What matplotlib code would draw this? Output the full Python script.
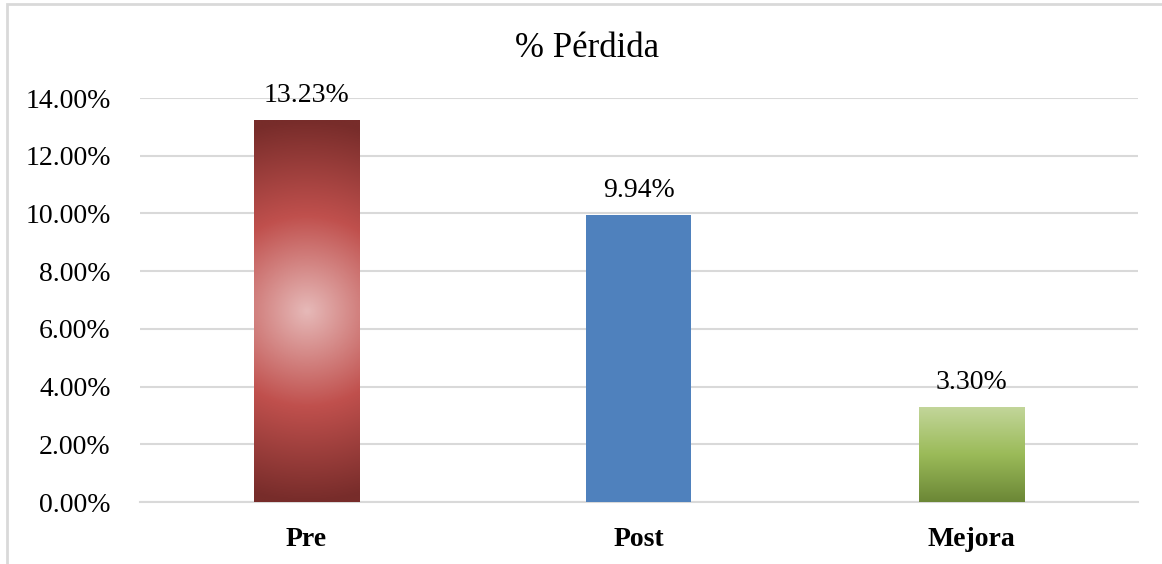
import numpy as np
import matplotlib.pyplot as plt
from matplotlib.colors import LinearSegmentedColormap
from matplotlib.patches import Rectangle

categories = ["Pre", "Post", "Mejora"]
perdida = [0.1323, 0.0994, 0.0330]
etiquetas = ["13.23%", "9.94%", "3.30%"]
yticks = [0.0, 0.02, 0.04, 0.06, 0.08, 0.10, 0.12, 0.14]

plt.rcParams['font.family'] = ['Liberation Serif', 'DejaVu Serif']

fig = plt.figure(figsize=(11.62, 5.64), dpi=100)
ax = fig.add_axes([140 / 1162, 62 / 564, 997.5 / 1162, 404 / 564])

x = np.arange(len(categories))
bars = ax.bar(x, perdida, width=0.316, color=["#C0504D", "#4F81BD", "#9BBB59"],
              zorder=3, linewidth=0)

ax.set_xlim(-0.5, 2.5)
ax.set_ylim(0, 0.14)
ax.set_yticks(yticks)
ax.set_yticklabels([f"{v * 100:.2f}%" for v in yticks], fontsize=20)
ax.set_xticks(x)
ax.set_xticklabels(categories, fontsize=20, fontweight='bold')
ax.tick_params(axis='y', length=0, pad=21)
ax.tick_params(axis='x', length=0, pad=18)
ax.yaxis.grid(True, color="#D9D9D9", linewidth=1.5, zorder=0)
for s in ["top", "right", "left"]:
    ax.spines[s].set_visible(False)
ax.spines["bottom"].set_color("#D9D9D9")
ax.spines["bottom"].set_linewidth(1.5)

# radial fill for the first bar
red_cmap = LinearSegmentedColormap.from_list(
    "rojo", [(0.0, "#E6B9B8"), (0.5, "#C0504D"), (1.0, "#772C2A")])
b = bars[0]
x0, y0 = b.get_x(), b.get_y()
w, h = b.get_width(), b.get_height()
ny, nx = 400, 110
yy, xx = np.mgrid[0:ny, 0:nx]
cy, cx = (ny - 1) / 2, (nx - 1) / 2
d = np.sqrt((yy - cy) ** 2 + (xx - cx) ** 2) / cy
im = ax.imshow(np.clip(d, 0, 1), cmap=red_cmap, vmin=0, vmax=1, aspect='auto',
               extent=[x0, x0 + w, y0, y0 + h], zorder=4, interpolation='bilinear')
im.set_clip_path(b)

# vertical fill for the last bar
green_cmap = LinearSegmentedColormap.from_list(
    "verde", [(0.0, "#6B8736"), (0.5, "#9BBB59"), (1.0, "#C3D69B")])
b = bars[2]
x0, y0 = b.get_x(), b.get_y()
w, h = b.get_width(), b.get_height()
grad = np.linspace(0, 1, 200).reshape(-1, 1)
im2 = ax.imshow(grad, cmap=green_cmap, vmin=0, vmax=1, aspect='auto', origin='lower',
                extent=[x0, x0 + w, y0, y0 + h], zorder=4, interpolation='bilinear')
im2.set_clip_path(b)

for xi, v, lab in zip(x, perdida, etiquetas):
    ax.annotate(lab, (xi, v), xytext=(0, 13), textcoords='offset points',
                ha='center', va='baseline', fontsize=20)

ax.set_xlim(-0.5, 2.5)
ax.set_ylim(0, 0.14)

fig.text(587 / 1162, 1 - 57 / 564, "% Pérdida", ha='center', va='baseline', fontsize=25)

fig.add_artist(Rectangle((7 / 1162, -0.05), 1.1, 1 - 4 / 564 + 0.05,
                         transform=fig.transFigure, fill=False,
                         edgecolor="#D9D9D9", linewidth=2))

fig.savefig("out.png", dpi=100)
